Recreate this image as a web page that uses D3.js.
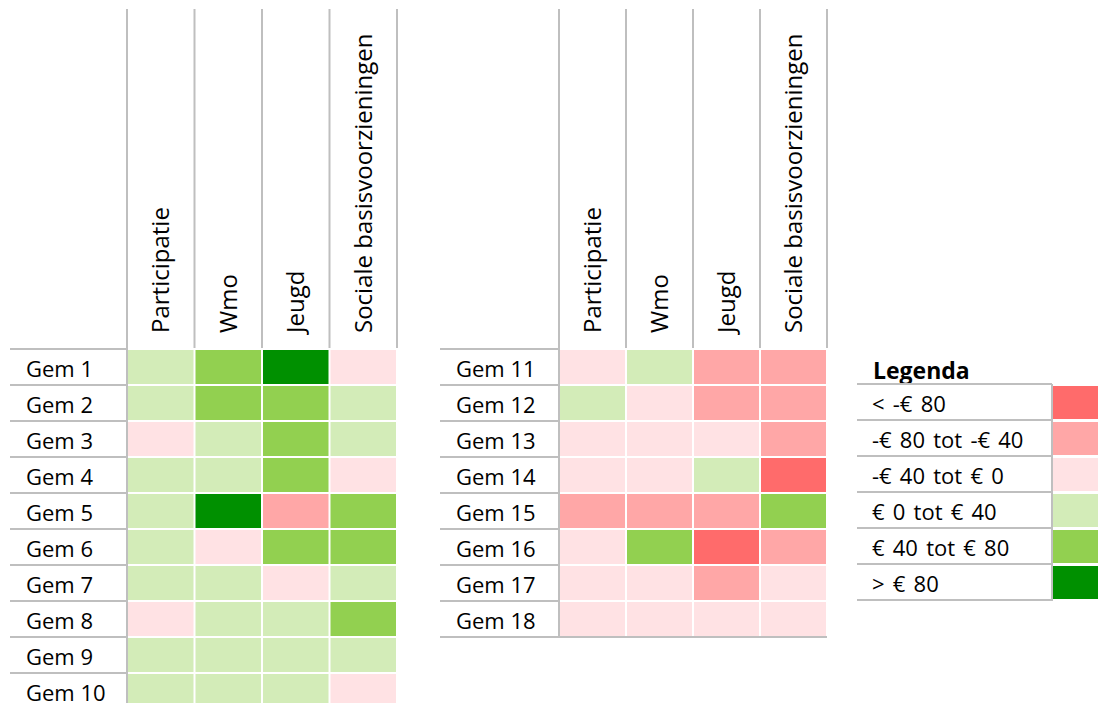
<!DOCTYPE html>
<html>
<head>
<meta charset="utf-8">
<script src="https://cdn.jsdelivr.net/npm/d3@7"></script>
<style>
body { margin: 0; background: #fff; }
text { font-family: "Open Sans", sans-serif; fill: #000; }
</style>
</head>
<body>
<div id="graph"></div>
<script>
(function(){
"use strict";

// kolommen en gemeenten
var kolommen = ["Participatie", "Wmo", "Jeugd", "Sociale basisvoorzieningen"];
var gemeenten = ["Gem 1", "Gem 2", "Gem 3", "Gem 4", "Gem 5", "Gem 6", "Gem 7", "Gem 8", "Gem 9",
  "Gem 10", "Gem 11", "Gem 12", "Gem 13", "Gem 14", "Gem 15", "Gem 16", "Gem 17", "Gem 18"];

// verschil per inwoner in euro (geschat uit de klasse)
var participatie = [20, 20, -20, 20, 20, 20, 20, -20, 20, 20, -20, 20, -20, -20, -60, -20, -20, -20];
var wmo = [60, 60, 20, 20, 100, -20, 20, 20, 20, 20, 20, -20, -20, -20, -60, 60, -20, -20];
var jeugd = [100, 60, 60, 60, -60, 60, -20, 20, 20, 20, -60, -60, -20, 20, -60, -100, -60, -20];
var sociaal = [-20, 20, 20, -20, 60, 60, 20, 60, 20, -20, -60, -60, -60, -100, 60, -60, -20, -20];

// legenda
var grenzen = [-80, -40, 0, 40, 80];
var kleuren = ["#ff6b6b", "#ffa7a7", "#ffe2e4", "#d3ecb8", "#92d050", "#009000"];
var legendaLabels = ["< -€ 80", "-€ 80 tot -€ 40", "-€ 40 tot € 0", "€ 0 tot € 40", "€ 40 tot € 80", "> € 80"];

var width = 1098;
var height = 703;
var rowH = 36;
var top = 349;
var grey = "#bfbfbf";

var color = d3.scaleThreshold().domain(grenzen).range(kleuren);

var series = [participatie, wmo, jeugd, sociaal];
var cells = [];
gemeenten.forEach(function(g, i){
  kolommen.forEach(function(k, j){
    cells.push({gem: g, kol: k, value: series[j][i], tabel: i < 10 ? 0 : 1});
  });
});

var svg = d3.select("#graph")
  .append("svg")
    .attr("width", width)
    .attr("height", height);

var tabellen = [
  {rows: gemeenten.slice(0, 10), labelX: 10, x0: 127, x1: 397},
  {rows: gemeenten.slice(10), labelX: 440, x0: 559, x1: 827}
];

tabellen.forEach(function(t, ti){
  var x = d3.scaleBand().domain(kolommen).range([t.x0, t.x1]);
  var y = d3.scaleBand().domain(t.rows).range([top, top + rowH * t.rows.length]);
  var g = svg.append("g");

  // kop: verticale lijnen
  g.selectAll(".kolomlijn")
    .data(kolommen.concat(["end"]))
    .enter()
    .append("line")
      .attr("x1", function(d, i){ return t.x0 + i * x.bandwidth(); })
      .attr("x2", function(d, i){ return t.x0 + i * x.bandwidth(); })
      .attr("y1", 9)
      .attr("y2", function(d, i){ return i === 0 ? y.range()[1] : 348; })
      .attr("stroke", grey)
      .attr("stroke-width", 2);

  g.selectAll(".kop")
    .data(kolommen)
    .enter()
    .append("text")
      .attr("transform", function(d){
        return "translate(" + (x(d) + x.bandwidth() / 2) + ",333) rotate(-90)";
      })
      .attr("dy", "0.36em")
      .style("font-size", "24px")
      .text(function(d){ return d; });

  // rijlijnen in labelkolom
  g.selectAll(".rijlijn")
    .data(t.rows.concat(["end"]))
    .enter()
    .append("line")
      .attr("x1", t.labelX)
      .attr("x2", function(d, i){ return i === t.rows.length ? t.x1 : t.x0; })
      .attr("y1", function(d, i){ return top + i * rowH; })
      .attr("y2", function(d, i){ return top + i * rowH; })
      .attr("stroke", grey)
      .attr("stroke-width", 2);

  g.selectAll(".label")
    .data(t.rows)
    .enter()
    .append("text")
      .attr("x", t.labelX + 16)
      .attr("y", function(d){ return y(d) + 28; })
      .style("font-size", "22px")
      .text(function(d){ return d; });

  g.selectAll(".cel")
    .data(cells.filter(function(c){ return c.tabel === ti; }))
    .enter()
    .append("rect")
      .attr("x", function(d){ return x(d.kol) + 1; })
      .attr("y", function(d){ return y(d.gem) + 1; })
      .attr("width", x.bandwidth() - 2)
      .attr("height", rowH - 2)
      .attr("fill", function(d){ return color(d.value); });
});

// legenda
var legX = 857;
var legX1 = 1052;
var legTop = 384;
var ly = d3.scaleBand().domain(legendaLabels).range([legTop, legTop + rowH * legendaLabels.length]);
var leg = svg.append("g");

leg.append("text")
  .attr("x", 873)
  .attr("y", 379)
  .style("font-size", "23px")
  .style("font-weight", "bold")
  .text("Legenda");

leg.selectAll(".leglijn")
  .data(legendaLabels.concat(["end"]))
  .enter()
  .append("line")
    .attr("x1", legX)
    .attr("x2", legX1)
    .attr("y1", function(d, i){ return legTop + i * rowH; })
    .attr("y2", function(d, i){ return legTop + i * rowH; })
    .attr("stroke", grey)
    .attr("stroke-width", 2);

leg.append("line")
  .attr("x1", legX1)
  .attr("x2", legX1)
  .attr("y1", legTop)
  .attr("y2", legTop + rowH * legendaLabels.length + 1)
  .attr("stroke", grey)
  .attr("stroke-width", 2);

leg.selectAll(".legtekst")
  .data(legendaLabels)
  .enter()
  .append("text")
    .attr("x", 872)
    .attr("y", function(d){ return ly(d) + 28; })
    .style("font-size", "22px")
    .style("word-spacing", "2.5px")
    .text(function(d){ return d; });

leg.selectAll(".legvak")
  .data(legendaLabels)
  .enter()
  .append("rect")
    .attr("x", legX1 + 1)
    .attr("y", function(d){ return ly(d) + 2; })
    .attr("width", 46)
    .attr("height", rowH - 3)
    .attr("fill", function(d, i){ return kleuren[i]; });

})();
</script>
</body>
</html>
